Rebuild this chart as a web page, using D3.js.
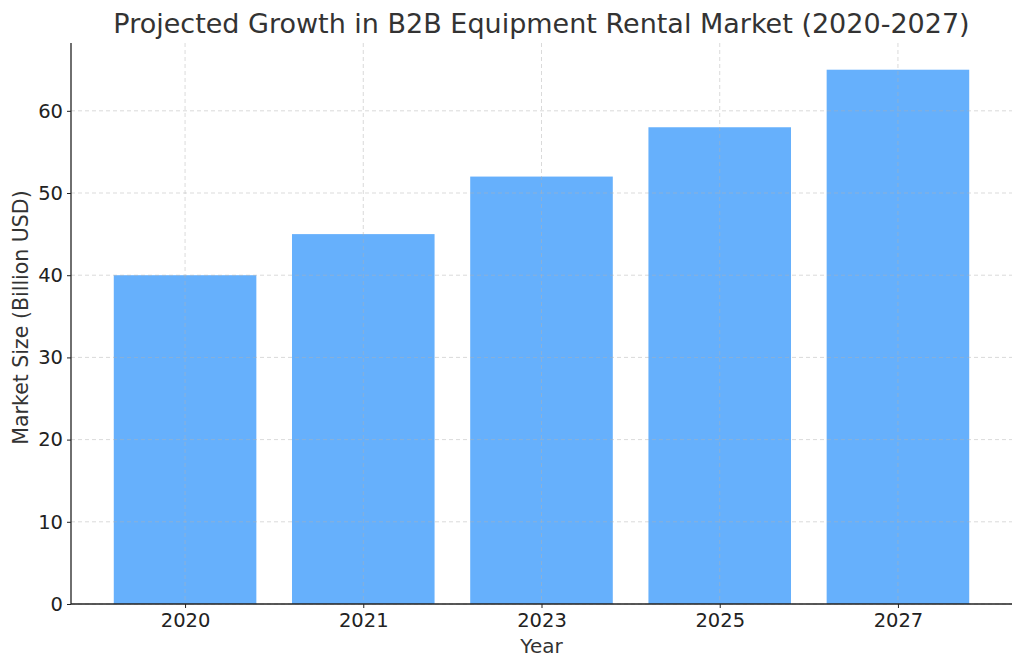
<!DOCTYPE html>
<html>
<head>
<meta charset="utf-8">
<script src="https://cdn.jsdelivr.net/npm/d3@7"></script>
<style>
  body { margin: 0; background: #fff; }
  svg { font-family: "DejaVu Sans", sans-serif; }
</style>
</head>
<body>
<svg id="chart" width="1024" height="669"></svg>
<script>
// data
const years = ["2020", "2021", "2023", "2025", "2027"];
const marketSize = [40, 45, 52, 58, 65];
const yTicks = [0, 10, 20, 30, 40, 50, 60];

const margin = {top: 43, right: 12, bottom: 65, left: 71};
const W = 1024, H = 669;
const w = W - margin.left - margin.right,
      h = H - margin.top - margin.bottom;

const svg = d3.select("#chart");
const g = svg.append("g").attr("transform", `translate(${margin.left},${margin.top})`);

// x as linear over bar index, padded like matplotlib (0.8 wide bars, 5% margins)
const x = d3.scaleLinear().domain([-0.64, years.length - 1 + 0.64]).range([0, w]);
const y = d3.scaleLinear().domain([0, 68.25]).range([h, 0]);
const barW = x(0.8) - x(0);

//Bars
g.selectAll(".bar")
  .data(marketSize)
  .enter().append("rect")
  .attr("class", "bar")
  .attr("x", (d, i) => x(i) - barW / 2)
  .attr("y", d => y(d))
  .attr("width", barW)
  .attr("height", d => y(0) - y(d))
  .style("fill", "#66b0fc");

//Grid on top of bars, faint dashed
const grid = g.append("g").attr("class", "grid");
grid.selectAll(".hgrid")
  .data(yTicks)
  .enter().append("line")
  .attr("x1", 0).attr("x2", w)
  .attr("y1", d => y(d)).attr("y2", d => y(d))
  .style("stroke", "#b0b0b0")
  .style("stroke-opacity", 0.6)
  .style("stroke-dasharray", "4,3")
  .style("stroke-width", 0.8);
grid.selectAll(".vgrid")
  .data(years)
  .enter().append("line")
  .attr("x1", (d, i) => x(i)).attr("x2", (d, i) => x(i))
  .attr("y1", 0).attr("y2", h)
  .style("stroke", "#b0b0b0")
  .style("stroke-opacity", 0.6)
  .style("stroke-dasharray", "4,3")
  .style("stroke-width", 0.8);

//Axes
const xAxis = g.append("g")
  .attr("transform", `translate(0,${h})`)
  .call(d3.axisBottom(x).tickValues(d3.range(years.length)).tickFormat(i => years[i]).tickSize(4).tickPadding(5));
const yAxis = g.append("g")
  .call(d3.axisLeft(y).tickValues(yTicks).tickSize(4).tickPadding(4));

[xAxis, yAxis].forEach(a => {
  a.select(".domain").style("stroke", "#222").style("stroke-width", 1.3);
  a.selectAll(".tick line").style("stroke", "#222");
  a.selectAll(".tick text").style("font-size", "19.5px").style("fill", "#222").style("font-family", "DejaVu Sans");
});
// only left + bottom spine; trim the outer tick stubs
xAxis.select(".domain").attr("d", `M0,0H${w}`);
yAxis.select(".domain").attr("d", `M0,${h}V0`);

//Labels
svg.append("text")
  .attr("x", margin.left + w / 2)
  .attr("y", 33)
  .attr("text-anchor", "middle")
  .style("font-size", "27px")
  .style("fill", "#333")
  .text("Projected Growth in B2B Equipment Rental Market (2020-2027)");

svg.append("text")
  .attr("x", margin.left + w / 2)
  .attr("y", 653)
  .attr("text-anchor", "middle")
  .style("font-size", "20px")
  .style("fill", "#333")
  .text("Year");

svg.append("text")
  .attr("transform", `translate(28,${margin.top + h / 2 - 6}) rotate(-90)`)
  .attr("text-anchor", "middle")
  .style("font-size", "20.5px")
  .style("fill", "#333")
  .text("Market Size (Billion USD)");
</script>
</body>
</html>
